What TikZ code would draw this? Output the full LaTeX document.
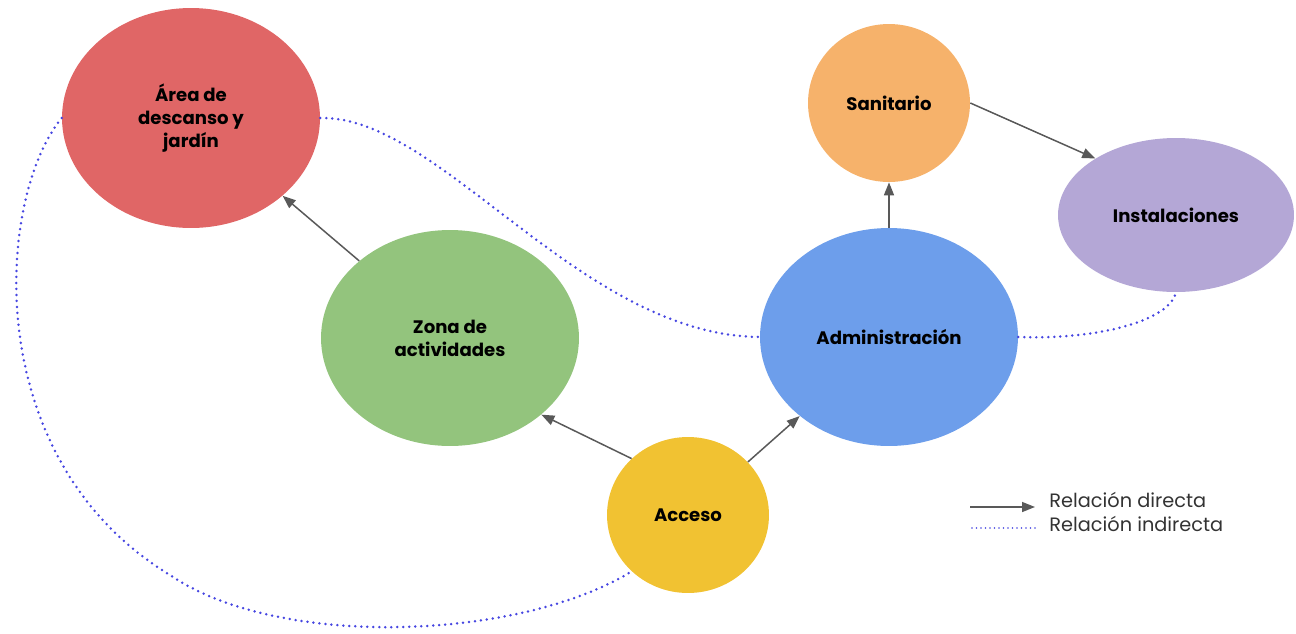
\documentclass[tikz,border=0pt]{standalone}
\usepackage{fontspec}
\setmainfont{Poppins}
\usetikzlibrary{arrows.meta,shapes.geometric}
\definecolor{rojo}{HTML}{E06666}
\definecolor{verde}{HTML}{93C47D}
\definecolor{amarillo}{HTML}{F1C232}
\definecolor{azulzona}{HTML}{6D9EEB}
\definecolor{naranja}{HTML}{F6B26B}
\definecolor{lila}{HTML}{B4A7D6}
\definecolor{gris}{HTML}{595959}
\definecolor{puntos}{RGB}{70,70,225}
\tikzset{
	espacio/.style={ellipse, inner sep=0pt, align=center, font=\fontsize{10.3}{13.2}\selectfont\bfseries},
	directa/.style={draw=gris, line width=0.3mm, -{Triangle[length=2.6mm,width=2mm]}},
	indirecta/.style={draw=puntos, line width=0.55mm, line cap=round, dash pattern=on 0pt off 1.2mm},
	leyenda/.style={anchor=west, inner sep=0pt, font=\fontsize{11}{13}\selectfont, text=black!80},
}

\begin{document}
\begin{tikzpicture}[x=0.02cm, y=-0.02cm]
			%%%%% START %%%%%
			\useasboundingbox (0, 0) rectangle (1296, 633);
			
			\node[espacio, fill=rojo, minimum width=5.16cm, minimum height=4.4cm] (area) at (191, 118) {Área de\\descanso y\\jardín};
			\node[espacio, fill=verde, minimum width=5.16cm, minimum height=4.32cm] (zona) at (450, 338) {Zona de\\actividades};
			\node[espacio, fill=amarillo, minimum width=3.24cm, minimum height=3.12cm] (acc) at (688, 515) {Acceso};
			\node[espacio, fill=azulzona, minimum width=5.16cm, minimum height=4.36cm] (adm) at (889, 337) {Administración};
			\node[espacio, fill=naranja, minimum width=3.24cm, minimum height=3.16cm] (san) at (889, 103) {Sanitario};
			\node[espacio, fill=lila, minimum width=4.72cm, minimum height=3.08cm] (inst) at (1176, 215) {Instalaciones};
			
			% relaciones directas
			\draw[directa] (zona) -- (area);
			\draw[directa] (acc.135) -- (zona.320);
			\draw[directa] (acc) -- (adm);
			\draw[directa] (adm) -- (san);
			\draw[directa] (san.east) -- (inst.145);
			
			% relaciones indirectas
			\draw[indirecta] (area.west) .. controls (-5, 200) and (-20, 460) .. (170, 575)
				.. controls (280, 650) and (520, 640) .. (acc.225);
			\draw[indirecta] (area.east) .. controls (440, 115) and (580, 335) .. (adm.west);
			\draw[indirecta] (adm.east) .. controls (1100, 340) and (1170, 320) .. (inst.south);
			
			% leyenda
			\coordinate (d1) at (970, 507);
			\coordinate (d2) at (1035, 507);
			\coordinate (i1) at (972, 528);
			\coordinate (i2) at (1035, 528);
			\draw[directa] (d1) -- (d2);
			\draw[indirecta, line width=0.35mm, dash pattern=on 0pt off 0.9mm] (i1) -- (i2);
			\node[leyenda] (ld) at (1049, 500) {Relación directa};
			\node[leyenda] (li) at (1049, 524) {Relación indirecta};
			%%%%% END %%%%%
\end{tikzpicture}
\end{document}
